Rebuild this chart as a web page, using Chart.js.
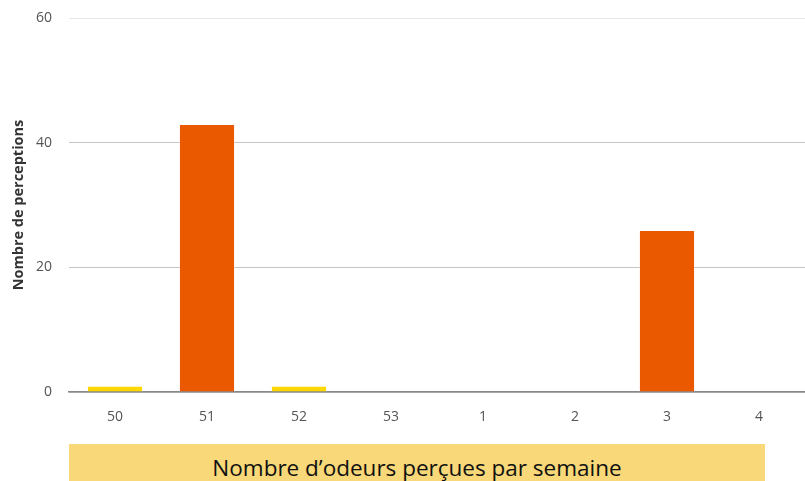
<!DOCTYPE html>
<html>
<head>
<meta charset="utf-8">
<script src="https://cdn.jsdelivr.net/npm/chart.js@4"></script>
<style>
  html, body { margin: 0; padding: 0; background: #fff; }
  #wrap { position: relative; width: 805px; height: 481px; }
  #box { position: absolute; left: 0; top: 0; width: 805px; height: 438px; }
  #caption {
    position: absolute; left: 69px; top: 444px; width: 696px; height: 40px;
    background: #F8D878; font-family: "Open Sans", sans-serif; font-size: 22.5px;
    color: #111; text-align: center; line-height: 48px; overflow: hidden;
  }
</style>
</head>
<body>
<div id="wrap">
  <div id="box"><canvas id="weekChart"></canvas></div>
  <div id="caption">Nombre d’odeurs perçues par semaine</div>
</div>
<script>
// weeks (50-53 of last year, then 1-4)
const weeks = ['50', '51', '52', '53', '1', '2', '3', '4'];
const perceptions = [1, 43, 1, 0, 0, 0, 26, 0];
const barColors = ['#FFD700', '#EA5800', '#FFD700', '#FFD700', '#FFD700', '#FFD700', '#EA5800', '#FFD700'];
const yTicks = [0, 20, 40, 60];

document.addEventListener('DOMContentLoaded', () => {
    const ctx = document.getElementById('weekChart').getContext('2d');
    new Chart(ctx, {
        type: 'bar',
        data: {
            labels: weeks,
            datasets: [{
                data: perceptions,
                backgroundColor: barColors,
                borderColor: 'rgba(255,255,255,0.35)',
                borderWidth: 1,
                borderSkipped: 'bottom',
                barPercentage: 0.61,
                categoryPercentage: 1
            }]
        },
        options: {
            responsive: true,
            maintainAspectRatio: false,
            animation: false,
            layout: { padding: { top: 18, right: 0, left: 10, bottom: 0 } },
            plugins: {
                legend: { display: false },
                tooltip: { enabled: false }
            },
            scales: {
                x: {
                    afterFit: scale => { scale.height = 46; scale.paddingLeft = 0; scale.paddingRight = 0; },
                    grid: { display: false, drawTicks: false },
                    border: { color: '#888', width: 1.5 },
                    ticks: {
                        color: '#555',
                        padding: 17,
                        font: { family: 'Open Sans', size: 14 }
                    }
                },
                y: {
                    min: 0,
                    max: 60,
                    afterBuildTicks: axis => { axis.ticks = yTicks.map(v => ({ value: v })); },
                    afterFit: scale => { scale.width = 59; scale.paddingTop = 0; scale.paddingBottom = 0; },
                    grid: {
                        drawTicks: false,
                        color: c => c.tick.value === 60 ? '#e6e6e6' : '#c4c4c4'
                    },
                    border: { display: false },
                    ticks: {
                        color: '#555',
                        padding: 17,
                        font: { family: 'Open Sans', size: 14 }
                    },
                    title: {
                        display: true,
                        text: 'Nombre de perceptions',
                        color: '#333',
                        padding: 0,
                        font: { family: 'Open Sans', size: 14.5, weight: 'bold' }
                    }
                }
            }
        }
    });
});
</script>
</body>
</html>
